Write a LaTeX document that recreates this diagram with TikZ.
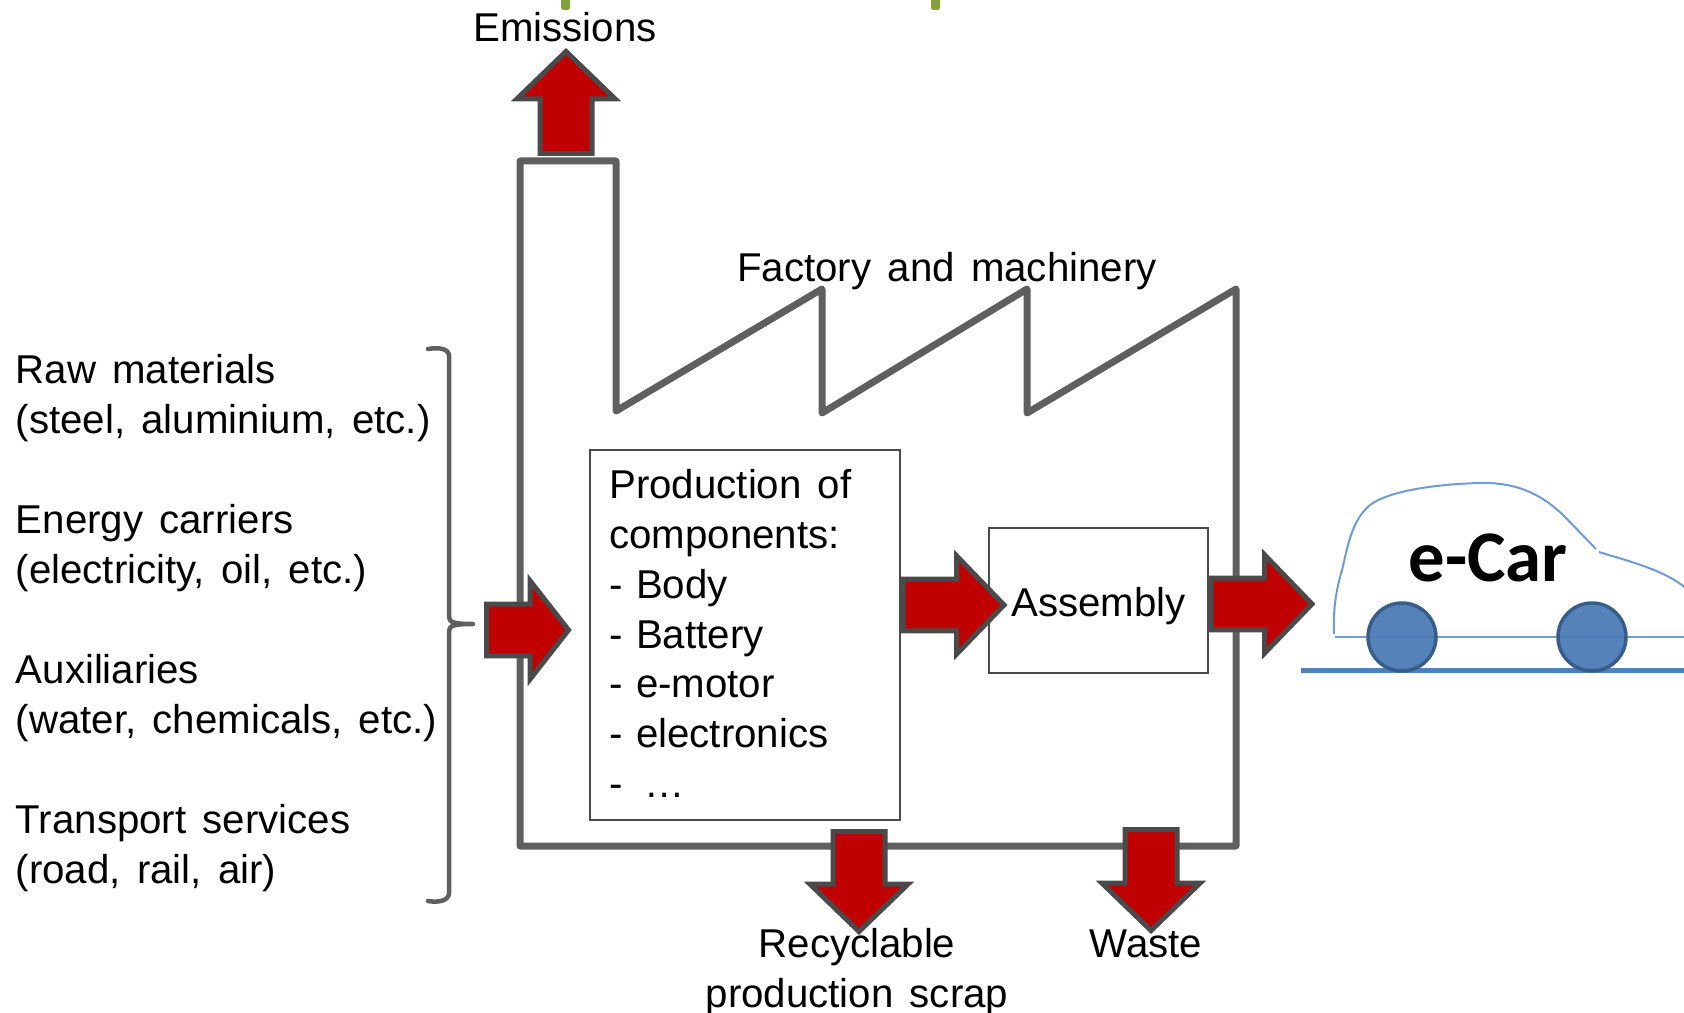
\documentclass[tikz,border=0pt]{standalone}
\usepackage{fontspec}
\setmainfont{Liberation Sans}[WordSpace=1.45]
\newfontfamily\carfont{Carlito}[Scale=1]
\usetikzlibrary{shapes,shapes.arrows}
\definecolor{wallgray}{HTML}{5F5F5F}
\definecolor{edgegray}{HTML}{4A4A4A}
\definecolor{flowred}{HTML}{C00000}
\definecolor{carblue}{HTML}{4F81BD}
\definecolor{rimblue}{HTML}{385D8A}
\definecolor{lineblue}{HTML}{6F9BD1}
\definecolor{tickgreen}{HTML}{85A03C}
\tikzset{
  every node/.style={font=\fontsize{22.9}{28.3}\selectfont},
  flowarrow/.style={single arrow,draw=edgegray,fill=flowred,line width=1mm,outer sep=0pt,
    inner sep=.47cm,single arrow head extend=.46cm,single arrow tip angle=92},
  workbox/.style={draw=edgegray,line width=.4mm,align=left,inner sep=0pt},
  wheel/.style={circle,draw=rimblue,fill=carblue!96!black,fill opacity=.95,line width=.7mm,minimum size=1.36cm,inner sep=0pt}
}
\begin{document}
\begin{tikzpicture}[x=0.02cm,y=-0.02cm]
\useasboundingbox (0,0) rectangle (1684,1013);
\clip (0,0) rectangle (1684,1013);
\fill[tickgreen,rounded corners=.5mm] (561,-10) rectangle (570,10);
\fill[tickgreen,rounded corners=.5mm] (931,-10) rectangle (940,10);

\draw(565,42) node[anchor=base] (emissions) {Emissions};
\draw(947,282) node[anchor=base] (factory) {Factory and machinery};
\draw(9.6,398) node[anchor=west,align=left] (raw) {Raw materials\\(steel, aluminium, etc.)};
\draw(9.6,548) node[anchor=west,align=left] (energy) {Energy carriers\\(electricity, oil, etc.)};
\draw(9.6,698) node[anchor=west,align=left] (aux) {Auxiliaries\\(water, chemicals, etc.)};
\draw(9.6,848) node[anchor=west,align=left] (transport) {Transport services\\(road, rail, air)};

\draw[wallgray,line width=.9mm,line join=round,line cap=round] (428,349) .. controls (440,347) and (449,349) .. (449,356) -- (449,616) .. controls (449,622) and (452,624) .. (473,624) .. controls (452,624) and (449,626) .. (449,632) -- (449,893) .. controls (449,900) and (440,903) .. (428,901);

\draw[wallgray,line width=1.4mm,line join=round] (520,846) -- (520,161) -- (616,161) -- (616,411) -- (822,289) -- (822,413) -- (1027,289) -- (1027,413) -- (1236,289) -- (1236,846) -- cycle;

\draw(745,635) node[workbox,minimum width=6.2cm,minimum height=7.4cm] (production) {};
\draw(609,633.5) node[anchor=west,align=left,inner sep=0pt] (steps) {Production of\\components:\\- \kern-.07em Body\\- \kern-.07em Battery\\- \kern-.07em e-motor\\- \kern-.07em electronics\\-\hspace{.55em}…};
\draw(1098.5,600.5) node[workbox,minimum width=4.38cm,minimum height=2.9cm,text height=.8cm] (assembly) {Assembly};

\draw(566,51.5) node[flowarrow,anchor=tip,rotate=90,minimum height=2.04cm] (emitarrow) {};
\draw(568.5,630) node[flowarrow,anchor=tip,minimum height=1.64cm,single arrow tip angle=104] (inarrow) {};
\draw(1004,605) node[flowarrow,anchor=tip,minimum height=2.02cm] (midarrow) {};
\draw(1312,604) node[flowarrow,anchor=tip,minimum height=2.02cm] (outarrow) {};
\draw(859,931.5) node[flowarrow,anchor=tip,rotate=-90,minimum height=2cm] (scraparrow) {};
\draw(1151,930.5) node[flowarrow,anchor=tip,rotate=-90,minimum height=2.02cm] (wastearrow) {};

\draw(857,957) node[anchor=base] (recyclable) {Recyclable};
\draw(857,1007) node[anchor=base] (scrap) {production scrap};
\draw(1146,957) node[anchor=base] (waste) {Waste};

\draw[lineblue,line width=.4mm] (1334,634) .. controls (1333,610) and (1336,590) .. (1342,570) .. controls (1348,545) and (1352,520) .. (1370,505) .. controls (1390,490) and (1440,484) .. (1480,483) .. controls (1520,482) and (1545,497) .. (1565,517) -- (1596,549);
\draw[lineblue,line width=.4mm] (1599,552) .. controls (1635,563) and (1670,572) .. (1690,592);
\draw[lineblue,line width=.4mm] (1335,637) -- (1690,637);
\draw[carblue,line width=1mm] (1301,670) -- (1690,670);
\draw(1402,637) node[wheel] (rearwheel) {};
\draw(1592,637) node[wheel] (frontwheel) {};
\draw(1488,558) node[font=\carfont\bfseries\fontsize{41.4}{41.4}\selectfont] (ecar) {e-Car};
\end{tikzpicture}
\end{document}
